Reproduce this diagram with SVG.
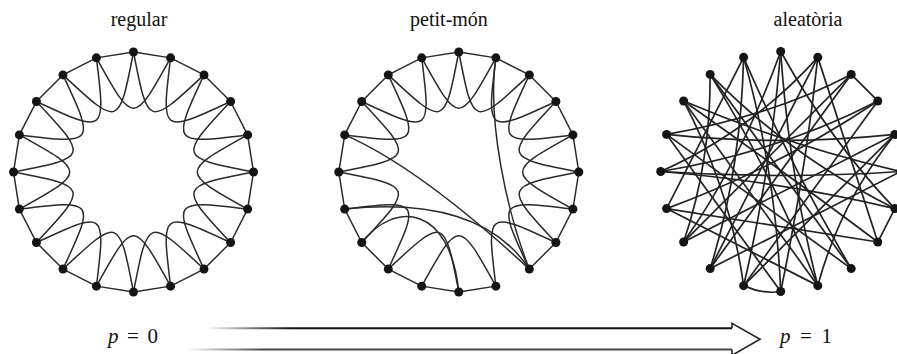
<svg xmlns="http://www.w3.org/2000/svg" width="897" height="354" viewBox="0 0 897 354">
<style>
.e{fill:none;stroke:#2a2a2a;stroke-width:1.5}
.r{fill:none;stroke:#222;stroke-width:1.7}
.n circle{fill:#141414}
.t{font-family:"Liberation Serif","Times New Roman",serif;font-size:20px;fill:#111;text-anchor:middle}
.m{font-family:"Liberation Serif","Times New Roman",serif;font-size:21px;fill:#111}
</style>
<defs>
<path id="o" d="M0,-120 L37.08,-114.13"/>
<path id="c" d="M0,-120 C14.52,-44.7 14.52,-44.7 70.53,-97.08"/>
<linearGradient id="g1" gradientUnits="userSpaceOnUse" x1="207" y1="0" x2="292" y2="0">
<stop offset="0" stop-color="#000" stop-opacity="0"/><stop offset="1" stop-color="#111" stop-opacity="1"/>
</linearGradient>
<linearGradient id="g2" gradientUnits="userSpaceOnUse" x1="187" y1="0" x2="265" y2="0">
<stop offset="0" stop-color="#444" stop-opacity="0"/><stop offset="1" stop-color="#444" stop-opacity="1"/>
</linearGradient>
</defs>

<text class="t" x="139" y="26">regular</text>
<text class="t" x="449" y="26">petit-món</text>
<text class="t" x="808" y="26">aleatòria</text>

<g id="connectors">
<g id="reg-edges" class="e" transform="translate(133.5,172)">
<use href="#o"/><use href="#o" transform="rotate(18)"/><use href="#o" transform="rotate(36)"/><use href="#o" transform="rotate(54)"/><use href="#o" transform="rotate(72)"/><use href="#o" transform="rotate(90)"/><use href="#o" transform="rotate(108)"/><use href="#o" transform="rotate(126)"/><use href="#o" transform="rotate(144)"/><use href="#o" transform="rotate(162)"/><use href="#o" transform="rotate(180)"/><use href="#o" transform="rotate(198)"/><use href="#o" transform="rotate(216)"/><use href="#o" transform="rotate(234)"/><use href="#o" transform="rotate(252)"/><use href="#o" transform="rotate(270)"/><use href="#o" transform="rotate(288)"/><use href="#o" transform="rotate(306)"/><use href="#o" transform="rotate(324)"/><use href="#o" transform="rotate(342)"/>
<use href="#c"/><use href="#c" transform="rotate(18)"/><use href="#c" transform="rotate(36)"/><use href="#c" transform="rotate(54)"/><use href="#c" transform="rotate(72)"/><use href="#c" transform="rotate(90)"/><use href="#c" transform="rotate(108)"/><use href="#c" transform="rotate(126)"/><use href="#c" transform="rotate(144)"/><use href="#c" transform="rotate(162)"/><use href="#c" transform="rotate(180)"/><use href="#c" transform="rotate(198)"/><use href="#c" transform="rotate(216)"/><use href="#c" transform="rotate(234)"/><use href="#c" transform="rotate(252)"/><use href="#c" transform="rotate(270)"/><use href="#c" transform="rotate(288)"/><use href="#c" transform="rotate(306)"/><use href="#c" transform="rotate(324)"/><use href="#c" transform="rotate(342)"/>
</g>
<g id="sw-edges" class="e" transform="translate(458.8,172)">
<use href="#o"/><use href="#o" transform="rotate(18)"/><use href="#o" transform="rotate(36)"/><use href="#o" transform="rotate(54)"/><use href="#o" transform="rotate(72)"/><use href="#o" transform="rotate(90)"/><use href="#o" transform="rotate(108)"/><use href="#o" transform="rotate(126)"/><use href="#o" transform="rotate(162)"/><use href="#o" transform="rotate(180)"/><use href="#o" transform="rotate(198)"/><use href="#o" transform="rotate(216)"/><use href="#o" transform="rotate(234)"/><use href="#o" transform="rotate(252)"/><use href="#o" transform="rotate(270)"/><use href="#o" transform="rotate(288)"/><use href="#o" transform="rotate(306)"/><use href="#o" transform="rotate(324)"/><use href="#o" transform="rotate(342)"/>
<use href="#c"/><use href="#c" transform="rotate(18)"/><use href="#c" transform="rotate(36)"/><use href="#c" transform="rotate(54)"/><use href="#c" transform="rotate(72)"/><use href="#c" transform="rotate(90)"/><use href="#c" transform="rotate(108)"/><use href="#c" transform="rotate(126)"/><use href="#c" transform="rotate(162)"/><use href="#c" transform="rotate(180)"/><use href="#c" transform="rotate(216)"/><use href="#c" transform="rotate(234)"/><use href="#c" transform="rotate(270)"/><use href="#c" transform="rotate(288)"/><use href="#c" transform="rotate(306)"/><use href="#c" transform="rotate(324)"/><use href="#c" transform="rotate(342)"/>
<path d="M-114.13,-37.08 Q-40,-5 70.53,97.08"/>
<path d="M-114.13,37.08 Q21.2,23 70.53,97.08"/>
<path d="M37.08,-114.13 C28,-52 48,40 70.53,97.08"/>
<path d="M-97.08,70.53 C-63.8,28 -8.8,33 0,120"/>
</g>
<g id="rnd-edges" class="r" transform="translate(780.7,171.5)">
<path d="M0,-120 Q-10,0 -37.08,114.13"/>
<path d="M0,-120 Q8,0 37.08,114.13"/>
<path d="M0,-120 Q-40,-10 -97.08,70.53"/>
<path d="M0,-120 Q50,-30 114.13,37.08"/>
<line x1="37.08" y1="-114.13" x2="-70.53" y2="97.08"/>
<path d="M37.08,-114.13 Q25,0 0,120"/>
<path d="M37.08,-114.13 Q-30,-40 -120,0"/>
<line x1="37.08" y1="-114.13" x2="97.08" y2="70.53"/>
<line x1="70.53" y1="-97.08" x2="97.08" y2="-70.53"/>
<line x1="70.53" y1="-97.08" x2="-97.08" y2="70.53"/>
<path d="M70.53,-97.08 Q-10,-55 -114.13,-37.08"/>
<line x1="70.53" y1="-97.08" x2="-70.53" y2="97.08"/>
<path d="M97.08,-70.53 Q0,-5 -114.13,37.08"/>
<line x1="97.08" y1="-70.53" x2="-37.08" y2="114.13"/>
<path d="M97.08,-70.53 Q0,-20 -120,0"/>
<path d="M114.13,-37.08 Q0,-25 -114.13,-37.08"/>
<line x1="114.13" y1="-37.08" x2="-97.08" y2="70.53"/>
<path d="M114.13,-37.08 Q60,30 37.08,114.13"/>
<line x1="114.13" y1="-37.08" x2="-37.08" y2="114.13"/>
<path d="M120,0 Q10,-25 -97.08,-70.53"/>
<path d="M120,0 Q0,8 -120,0"/>
<line x1="120" y1="0" x2="-70.53" y2="97.08"/>
<path d="M114.13,37.08 Q10,-15 -70.53,-97.08"/>
<line x1="114.13" y1="37.08" x2="97.08" y2="70.53"/>
<path d="M114.13,37.08 Q0,10 -120,0"/>
<path d="M97.08,70.53 Q10,5 -97.08,-70.53"/>
<line x1="97.08" y1="70.53" x2="-114.13" y2="37.08"/>
<path d="M70.53,97.08 Q10,-5 -37.08,-114.13"/>
<line x1="70.53" y1="97.08" x2="-114.13" y2="-37.08"/>
<line x1="70.53" y1="97.08" x2="-70.53" y2="-97.08"/>
<path d="M37.08,114.13 Q-10,0 -70.53,-97.08"/>
<line x1="37.08" y1="114.13" x2="-114.13" y2="37.08"/>
<line x1="37.08" y1="114.13" x2="-97.08" y2="-70.53"/>
<path d="M0,120 Q-18,123 -37.08,114.13"/>
<path d="M0,120 Q-5,0 -37.08,-114.13"/>
<line x1="0" y1="120" x2="-114.13" y2="-37.08"/>
<path d="M-37.08,114.13 Q-50,20 -97.08,-70.53"/>
<path d="M-70.53,97.08 Q-40,0 -37.08,-114.13"/>
<path d="M-97.08,70.53 Q-70,-10 -70.53,-97.08"/>
<line x1="-114.13" y1="37.08" x2="-37.08" y2="-114.13"/>
</g>
<g id="arrow">
<line x1="207" y1="328.3" x2="732" y2="328.3" stroke="url(#g1)" stroke-width="2"/>
<line x1="187" y1="349.5" x2="732" y2="349.5" stroke="url(#g2)" stroke-width="2"/>
<path d="M732,328.3 L732,323.3 L760,339.3 L732,355.3 L732,349.5" fill="none" stroke="#222" stroke-width="1.6"/>
</g>
</g>

<g transform="translate(133.5,172)">
<g id="reg-n0" class="n"><circle cx="0" cy="-120" r="4.5"/></g>
<g id="reg-n1" class="n"><circle cx="37.08" cy="-114.13" r="4.5"/></g>
<g id="reg-n2" class="n"><circle cx="70.53" cy="-97.08" r="4.5"/></g>
<g id="reg-n3" class="n"><circle cx="97.08" cy="-70.53" r="4.5"/></g>
<g id="reg-n4" class="n"><circle cx="114.13" cy="-37.08" r="4.5"/></g>
<g id="reg-n5" class="n"><circle cx="120" cy="0" r="4.5"/></g>
<g id="reg-n6" class="n"><circle cx="114.13" cy="37.08" r="4.5"/></g>
<g id="reg-n7" class="n"><circle cx="97.08" cy="70.53" r="4.5"/></g>
<g id="reg-n8" class="n"><circle cx="70.53" cy="97.08" r="4.5"/></g>
<g id="reg-n9" class="n"><circle cx="37.08" cy="114.13" r="4.5"/></g>
<g id="reg-n10" class="n"><circle cx="0" cy="120" r="4.5"/></g>
<g id="reg-n11" class="n"><circle cx="-37.08" cy="114.13" r="4.5"/></g>
<g id="reg-n12" class="n"><circle cx="-70.53" cy="97.08" r="4.5"/></g>
<g id="reg-n13" class="n"><circle cx="-97.08" cy="70.53" r="4.5"/></g>
<g id="reg-n14" class="n"><circle cx="-114.13" cy="37.08" r="4.5"/></g>
<g id="reg-n15" class="n"><circle cx="-120" cy="0" r="4.5"/></g>
<g id="reg-n16" class="n"><circle cx="-114.13" cy="-37.08" r="4.5"/></g>
<g id="reg-n17" class="n"><circle cx="-97.08" cy="-70.53" r="4.5"/></g>
<g id="reg-n18" class="n"><circle cx="-70.53" cy="-97.08" r="4.5"/></g>
<g id="reg-n19" class="n"><circle cx="-37.08" cy="-114.13" r="4.5"/></g>
</g>
<g transform="translate(458.8,172)">
<g id="sw-n0" class="n"><circle cx="0" cy="-120" r="4.5"/></g>
<g id="sw-n1" class="n"><circle cx="37.08" cy="-114.13" r="4.5"/></g>
<g id="sw-n2" class="n"><circle cx="70.53" cy="-97.08" r="4.5"/></g>
<g id="sw-n3" class="n"><circle cx="97.08" cy="-70.53" r="4.5"/></g>
<g id="sw-n4" class="n"><circle cx="114.13" cy="-37.08" r="4.5"/></g>
<g id="sw-n5" class="n"><circle cx="120" cy="0" r="4.5"/></g>
<g id="sw-n6" class="n"><circle cx="114.13" cy="37.08" r="4.5"/></g>
<g id="sw-n7" class="n"><circle cx="97.08" cy="70.53" r="4.5"/></g>
<g id="sw-n8" class="n"><circle cx="70.53" cy="97.08" r="4.5"/></g>
<g id="sw-n9" class="n"><circle cx="37.08" cy="114.13" r="4.5"/></g>
<g id="sw-n10" class="n"><circle cx="0" cy="120" r="4.5"/></g>
<g id="sw-n11" class="n"><circle cx="-37.08" cy="114.13" r="4.5"/></g>
<g id="sw-n12" class="n"><circle cx="-70.53" cy="97.08" r="4.5"/></g>
<g id="sw-n13" class="n"><circle cx="-97.08" cy="70.53" r="4.5"/></g>
<g id="sw-n14" class="n"><circle cx="-114.13" cy="37.08" r="4.5"/></g>
<g id="sw-n15" class="n"><circle cx="-120" cy="0" r="4.5"/></g>
<g id="sw-n16" class="n"><circle cx="-114.13" cy="-37.08" r="4.5"/></g>
<g id="sw-n17" class="n"><circle cx="-97.08" cy="-70.53" r="4.5"/></g>
<g id="sw-n18" class="n"><circle cx="-70.53" cy="-97.08" r="4.5"/></g>
<g id="sw-n19" class="n"><circle cx="-37.08" cy="-114.13" r="4.5"/></g>
</g>
<g transform="translate(780.7,171.5)">
<g id="rnd-n0" class="n"><circle cx="0" cy="-120" r="4.5"/></g>
<g id="rnd-n1" class="n"><circle cx="37.08" cy="-114.13" r="4.5"/></g>
<g id="rnd-n2" class="n"><circle cx="70.53" cy="-97.08" r="4.5"/></g>
<g id="rnd-n3" class="n"><circle cx="97.08" cy="-70.53" r="4.5"/></g>
<g id="rnd-n4" class="n"><circle cx="114.13" cy="-37.08" r="4.5"/></g>
<g id="rnd-n5" class="n"><circle cx="120" cy="0" r="4.5"/></g>
<g id="rnd-n6" class="n"><circle cx="114.13" cy="37.08" r="4.5"/></g>
<g id="rnd-n7" class="n"><circle cx="97.08" cy="70.53" r="4.5"/></g>
<g id="rnd-n8" class="n"><circle cx="70.53" cy="97.08" r="4.5"/></g>
<g id="rnd-n9" class="n"><circle cx="37.08" cy="114.13" r="4.5"/></g>
<g id="rnd-n10" class="n"><circle cx="0" cy="120" r="4.5"/></g>
<g id="rnd-n11" class="n"><circle cx="-37.08" cy="114.13" r="4.5"/></g>
<g id="rnd-n12" class="n"><circle cx="-70.53" cy="97.08" r="4.5"/></g>
<g id="rnd-n13" class="n"><circle cx="-97.08" cy="70.53" r="4.5"/></g>
<g id="rnd-n14" class="n"><circle cx="-114.13" cy="37.08" r="4.5"/></g>
<g id="rnd-n15" class="n"><circle cx="-120" cy="0" r="4.5"/></g>
<g id="rnd-n16" class="n"><circle cx="-114.13" cy="-37.08" r="4.5"/></g>
<g id="rnd-n17" class="n"><circle cx="-97.08" cy="-70.53" r="4.5"/></g>
<g id="rnd-n18" class="n"><circle cx="-70.53" cy="-97.08" r="4.5"/></g>
<g id="rnd-n19" class="n"><circle cx="-37.08" cy="-114.13" r="4.5"/></g>
</g>

<text class="m" x="108" y="343" textLength="50"><tspan font-style="italic">p</tspan> = 0</text>
<text class="m" x="780" y="343" textLength="52"><tspan font-style="italic">p</tspan> = 1</text>
</svg>
